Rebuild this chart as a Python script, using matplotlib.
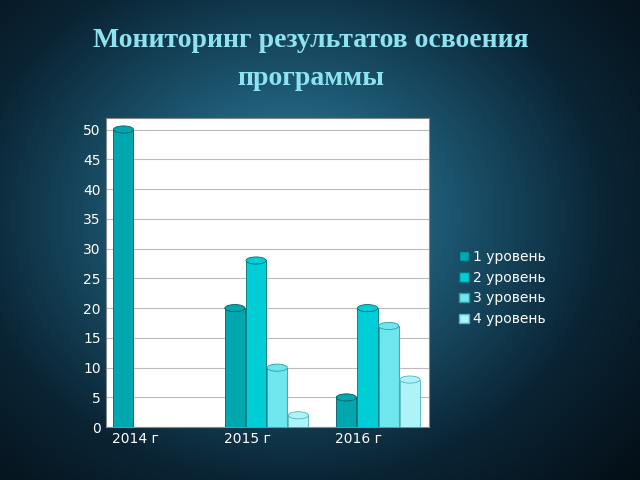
import numpy as np
import matplotlib.pyplot as plt
from matplotlib.patches import Ellipse, Patch

# ── Data ──
years = ["2014 г", "2015 г", "2016 г"]
series_names = ["1 уровень", "2 уровень", "3 уровень", "4 уровень"]
level1 = [50, 20, 5]
level2 = [0, 28, 20]
level3 = [0, 10, 17]
level4 = [0, 2, 8]
series = [level1, level2, level3, level4]

colors = ["#00a7ae", "#00cdd6", "#6fe6ee", "#aef3f7"]
edges = ["#005e63", "#007278", "#2e9aa2", "#4fb5bb"]

fig = plt.figure(figsize=(6.4, 4.8), dpi=100)

# ── Background gradient ──
bg = fig.add_axes([0, 0, 1, 1])
yy, xx = np.mgrid[0:1:300j, 0:1:400j]
r = np.sqrt((xx - 0.45) ** 2 + ((yy - 0.55) * 0.9) ** 2)
bg.imshow(r, cmap=plt.matplotlib.colors.LinearSegmentedColormap.from_list(
    "bg", ["#3a8aa6", "#1c5670", "#0a2434", "#040d14"]),
    extent=[0, 1, 0, 1], aspect="auto", origin="lower", vmin=0, vmax=0.75)
bg.axis("off")

fig.text(0.485, 0.915, "Мониторинг результатов освоения", ha="center", va="center",
         fontsize=20, fontweight="bold", color="#8fe3f0", family="Liberation Serif")
fig.text(0.485, 0.837, "программы", ha="center", va="center",
         fontsize=20, fontweight="bold", color="#8fe3f0", family="Liberation Serif")

ax = fig.add_axes([0.165, 0.11, 0.505, 0.645])
ax.set_facecolor("white")
ax.set_ylim(0, 52)
ax.set_xlim(-0.35, 2.55)
ax.set_yticks(range(0, 51, 5))
ax.yaxis.grid(True, color="#bbbbbb", linewidth=0.8)
ax.set_axisbelow(True)

x = np.arange(len(years))
w = 0.19
for i, (vals, c, e) in enumerate(zip(series, colors, edges)):
    xs = x + (i - 1.0) * w
    for xi, v in zip(xs, vals):
        if v <= 0:
            continue
        ax.bar(xi, v, w * 0.95, color=c, edgecolor=e, linewidth=0.6, zorder=3)
        ax.add_patch(Ellipse((xi, v), w * 0.95, 1.2, facecolor=c, edgecolor=e,
                             linewidth=0.6, zorder=4))

ax.set_xticks(x - 0.08)
ax.set_xticklabels(years)
ax.tick_params(colors="white", labelsize=10, length=0)
for s in ax.spines.values():
    s.set_color("#888888")

handles = [Patch(facecolor=c, edgecolor=e) for c, e in zip(colors, edges)]
leg = fig.legend(handles, series_names, loc="center left", bbox_to_anchor=(0.698, 0.4),
                 frameon=False, fontsize=10, handlelength=0.7, handleheight=0.7,
                 handletextpad=0.3, labelspacing=0.5)
for t in leg.get_texts():
    t.set_color("white")

fig.savefig("out.png", dpi=100)
